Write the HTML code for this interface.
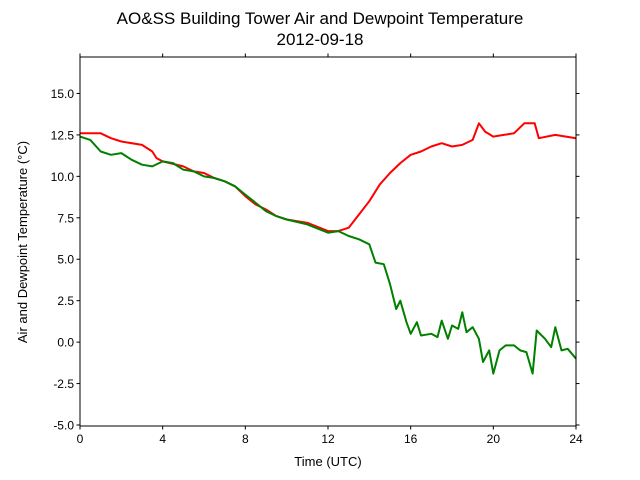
<!DOCTYPE html>
<html><head><meta charset="utf-8"><style>
html,body{margin:0;padding:0;background:#fff;}
svg{display:block;font-family:"Liberation Sans","DejaVu Sans",sans-serif;}
</style></head><body>
<svg id="chart" width="640" height="480">
<text x="320" y="24" font-size="17" text-anchor="middle">AO&amp;SS Building Tower Air and Dewpoint Temperature</text>
<text x="320" y="45" font-size="17" text-anchor="middle">2012-09-18</text>
<text x="328" y="466" font-size="13" text-anchor="middle">Time (UTC)</text>
<text transform="translate(27,242) rotate(-90)" font-size="13" text-anchor="middle">Air and Dewpoint Temperature (°C)</text>
<g id="plot"></g>
</svg>
<script>
const xTicks=[0,4,8,12,16,20,24];
const yTicks=[-5.0,-2.5,0.0,2.5,5.0,7.5,10.0,12.5,15.0];
const airHours=[0,1,1.5,2,3,3.5,3.7,4,5,5.5,6,6.5,7,7.5,8,8.5,9,9.5,10,11,12,12.5,13,13.5,14,14.5,15,15.5,16,16.5,17,17.5,18,18.5,19,19.3,19.6,20,20.5,21,21.5,22,22.2,23,24];
const airTemp=[12.6,12.6,12.3,12.1,11.9,11.5,11.1,10.9,10.6,10.3,10.2,9.9,9.7,9.4,8.8,8.3,8.0,7.6,7.4,7.2,6.7,6.7,6.9,7.7,8.5,9.5,10.2,10.8,11.3,11.5,11.8,12.0,11.8,11.9,12.2,13.2,12.7,12.4,12.5,12.6,13.2,13.2,12.3,12.5,12.3];
const dewHours=[0,0.5,1,1.5,2,2.5,3,3.5,4,4.5,5,5.5,6,6.5,7,7.5,8,8.5,9,9.5,10,11,12,12.5,13,13.5,14,14.3,14.7,15,15.3,15.5,15.8,16,16.3,16.5,17,17.3,17.5,17.8,18,18.3,18.5,18.7,19,19.3,19.5,19.8,20,20.3,20.6,21,21.3,21.6,21.9,22.1,22.5,22.8,23,23.3,23.6,24];
const dewTemp=[12.4,12.2,11.5,11.3,11.4,11.0,10.7,10.6,10.9,10.8,10.4,10.3,10.0,9.9,9.7,9.4,8.9,8.4,7.9,7.6,7.4,7.1,6.6,6.7,6.4,6.2,5.9,4.8,4.7,3.5,2.0,2.5,1.2,0.5,1.2,0.4,0.5,0.3,1.3,0.2,1.0,0.8,1.8,0.6,0.9,0.2,-1.2,-0.5,-1.9,-0.5,-0.2,-0.2,-0.5,-0.6,-1.9,0.7,0.2,-0.3,0.9,-0.5,-0.4,-1.0];
const L=80,R=576,T=57,B=426,yMin=-5.06,yMax=17.2;
const sx=h=>L+(h/24)*(R-L);
const sy=v=>B-(v-yMin)/(yMax-yMin)*(B-T);
const NS="http://www.w3.org/2000/svg";
const g=document.getElementById('plot');
function mk(t,a){const e=document.createElementNS(NS,t);for(const k in a)e.setAttribute(k,a[k]);g.appendChild(e);return e;}
function line(xs,ys,color,name){
  const d=xs.map((h,i)=>(i?'L':'M')+sx(h).toFixed(1)+','+sy(ys[i]).toFixed(1)).join('');
  const p=mk('path',{d:d,fill:'none',stroke:color,'stroke-width':2,'stroke-linejoin':'round'});
  
  
}
line(airHours,airTemp,'#ff0000','air-temperature-line');
line(dewHours,dewTemp,'#008000','dewpoint-temperature-line');
const frame=mk('rect',{x:L,y:T,width:R-L,height:B-T,fill:'none',stroke:'#000','stroke-width':1});


xTicks.forEach(t=>{
  const x=sx(t);
  mk('line',{x1:x,x2:x,y1:B,y2:B+3.5,stroke:'#000'});
  mk('line',{x1:x,x2:x,y1:T,y2:T-3.5,stroke:'#000'});
  const tx=mk('text',{x:x,y:B+17,'font-size':12,'text-anchor':'middle'});
  tx.textContent=t;
  
  
});
yTicks.forEach(t=>{
  const y=sy(t);
  mk('line',{x1:L,x2:L-3.5,y1:y,y2:y,stroke:'#000'});
  mk('line',{x1:R,x2:R+3.5,y1:y,y2:y,stroke:'#000'});
  const tx=mk('text',{x:L-6,y:y+4.5,'font-size':12,'text-anchor':'end'});
  tx.textContent=t.toFixed(1);
  
  
});
</script>
</body></html>
